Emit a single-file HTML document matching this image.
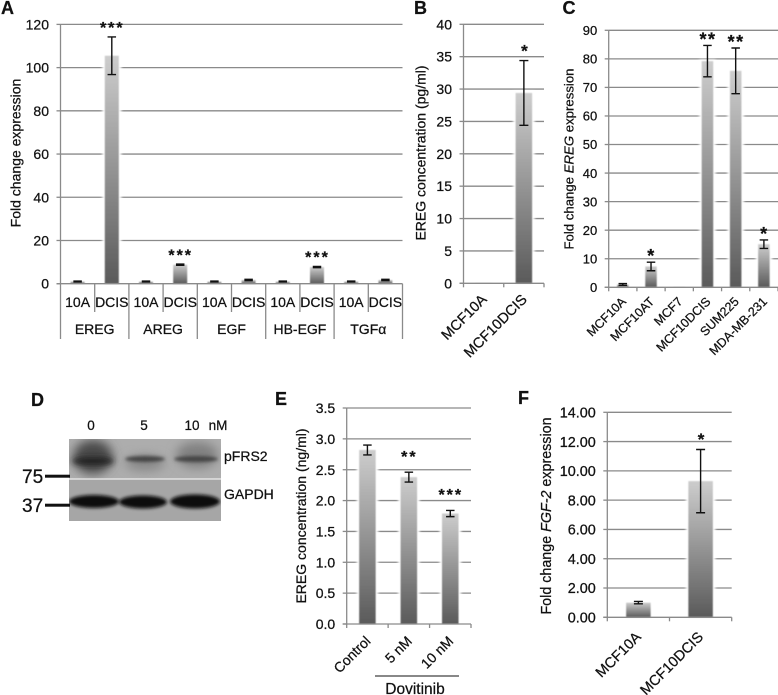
<!DOCTYPE html>
<html>
<head>
<meta charset="utf-8">
<title>Figure panels A-F</title>
<style>
html,body{margin:0;padding:0;background:#fff;width:778px;height:695px;overflow:hidden}
svg{display:block;filter:blur(0.35px)}
text{font-family:"Liberation Sans",sans-serif;fill:#111;stroke:#111;stroke-width:0.25px}
</style>
</head>
<body>
<svg id="fig" xmlns="http://www.w3.org/2000/svg" width="778" height="695" viewBox="0 0 778 695">
<defs>
<linearGradient id="barGrad" x1="0" y1="0" x2="0" y2="1"><stop offset="0" stop-color="#cdcdcd"/><stop offset="1" stop-color="#5a5a5a"/></linearGradient>
<filter id="soft" x="-30%" y="-30%" width="160%" height="160%"><feGaussianBlur stdDeviation="0.5"/></filter>
<filter id="halo" x="-50%" y="-50%" width="200%" height="200%"><feGaussianBlur stdDeviation="1.2"/></filter>
<filter id="band" x="-50%" y="-80%" width="200%" height="260%"><feGaussianBlur stdDeviation="3"/></filter>
<filter id="band2" x="-30%" y="-80%" width="160%" height="260%"><feGaussianBlur stdDeviation="1.6"/></filter>
<filter id="cloud" x="-60%" y="-60%" width="220%" height="220%"><feGaussianBlur stdDeviation="5"/></filter>
</defs>

<g font-weight="bold" font-size="18">
<text x="1" y="14">A</text>
<text x="414" y="14">B</text>
<text x="562.5" y="14">C</text>
<text x="31" y="406">D</text>
<text x="275" y="405">E</text>
<text x="518" y="404">F</text>
</g>

<g>
<rect x="69" y="439" width="152" height="39.5" fill="#adadad"/>
<rect x="69" y="479.5" width="152" height="41.5" fill="#a6a6a6"/>
<clipPath id="blotTop"><rect x="69" y="439" width="152" height="39.5"/></clipPath>
<clipPath id="blotBot"><rect x="69" y="479.5" width="152" height="41.5"/></clipPath>
<g clip-path="url(#blotTop)">
<ellipse cx="93" cy="457" rx="20" ry="17" fill="#4a4a4a" filter="url(#cloud)"/>
<ellipse cx="93" cy="461" rx="21" ry="4" fill="#222" filter="url(#band)"/>
<ellipse cx="145" cy="463" rx="20" ry="8" fill="#888" filter="url(#cloud)"/>
<ellipse cx="197" cy="455" rx="21" ry="13" fill="#808080" filter="url(#cloud)"/>
<ellipse cx="145" cy="459" rx="20" ry="3" fill="#444" filter="url(#band2)"/>
<ellipse cx="196" cy="459" rx="22" ry="3" fill="#444" filter="url(#band2)"/>
</g>
<g clip-path="url(#blotBot)">
<ellipse cx="94" cy="501.5" rx="25" ry="6.5" fill="#111" filter="url(#band2)"/>
<ellipse cx="143" cy="502" rx="24" ry="6.5" fill="#111" filter="url(#band2)"/>
<ellipse cx="195" cy="501.5" rx="25" ry="7" fill="#111" filter="url(#band2)"/>
</g>
<text x="91" y="430" font-size="13.5" text-anchor="middle">0</text>
<text x="144" y="430" font-size="13.5" text-anchor="middle">5</text>
<text x="192" y="430" font-size="13.5" text-anchor="middle">10</text>
<text x="218" y="430" font-size="13.5" text-anchor="middle">nM</text>
<text x="224" y="461" font-size="14">pFRS2</text>
<text x="224" y="499" font-size="14">GAPDH</text>
<text x="22" y="483" font-size="19">75</text>
<text x="22" y="512" font-size="19">37</text>
<rect x="45" y="474.7" width="25" height="3" fill="#111"/>
<rect x="45" y="503.7" width="25" height="3" fill="#111"/>
</g>

<line x1="375" y1="676" x2="459" y2="676" stroke="#111" stroke-width="1"/>
<text x="415" y="694" font-size="15.5" text-anchor="middle">Dovitinib</text>
</svg>

<script>
// Panel A
var aCategories = ["10A","DCIS","10A","DCIS","10A","DCIS","10A","DCIS","10A","DCIS"];
var aGroups = ["EREG","AREG","EGF","HB-EGF","TGFα"];
var aValues = [1,105.5,1,8.8,1,1.7,1,7.7,1,1.7];
var aErrors = [0.2,8.7,0.2,0.3,0.2,0.3,0.2,0.3,0.2,0.3];
var aStars = ["","***","","***","","","","***","",""];
var aTicks = [0,20,40,60,80,100,120];
var aTickLabels = ["0","20","40","60","80","100","120"];
// Panel B
var bCategories = ["MCF10A","MCF10DCIS"];
var bValues = [0.05,29.4];
var bErrors = [0,5];
var bStars = ["","*"];
var bTicks = [0,5,10,15,20,25,30,35,40];
var bTickLabels = ["0","5","10","15","20","25","30","35","40"];
// Panel C
var cCategories = ["MCF10A","MCF10AT","MCF7","MCF10DCIS","SUM225","MDA-MB-231"];
var cValues = [1,7.3,0.2,79.2,75.8,15.1];
var cErrors = [0.3,1.5,0,5.5,8,1.5];
var cStars = ["","*","","**","**","*"];
var cTicks = [0,10,20,30,40,50,60,70,80,90];
var cTickLabels = ["0","10","20","30","40","50","60","70","80","90"];
// Panel E
var eCategories = ["Control","5 nM","10 nM"];
var eValues = [2.82,2.38,1.79];
var eErrors = [0.08,0.08,0.05];
var eStars = ["","**","***"];
var eTicks = [0,0.5,1,1.5,2,2.5,3,3.5];
var eTickLabels = ["0.0","0.5","1.0","1.5","2.0","2.5","3.0","3.5"];
// Panel F
var fCategories = ["MCF10A","MCF10DCIS"];
var fValues = [1,9.3];
var fErrors = [0.08,2.16];
var fStars = ["","*"];
var fTicks = [0,2,4,6,8,10,12,14];
var fTickLabels = ["0.00","2.00","4.00","6.00","8.00","10.00","12.00","14.00"];

var NS = "http://www.w3.org/2000/svg";
var fig = document.getElementById("fig");

function mk(parent, tag, attrs, txt) {
  var n = document.createElementNS(NS, tag);
  for (var k in attrs) n.setAttribute(k, attrs[k]);
  if (txt !== undefined) n.textContent = txt;
  parent.appendChild(n);
  return n;
}

function drawPanel(o) {
  var g = mk(fig, "g", {});
  
  
  var maxTick = Math.max.apply(null, o.ticks);
  function yScale(v) { return o.y0 - (v / maxTick) * (o.y0 - o.y1); }
  var step = (o.x1 - o.x0) / o.cats.length;
  function xScale(i) { return o.x0 + step * (i + 0.5); }

  // gridlines and y ticks
  o.ticks.forEach(function (t, i) {
    var yy = yScale(t);
    if (t !== 0) {
      var gl = mk(g, "line", {x1:o.x0, x2:o.x1, y1:yy, y2:yy, stroke:"#8a8a8a", "stroke-width":1.3});
      
      
    }
    var tk = mk(g, "line", {x1:o.x0 - 4, x2:o.x0, y1:yy, y2:yy, stroke:"#8a8a8a", "stroke-width":1.3});
    
    
    var lb = mk(g, "text", {x:o.x0 - 11.5, y:yy + o.fs * 0.36, "font-size":o.fs, "text-anchor":"end"}, o.labels[i]);
    
    
  });

  // bars
  o.vals.forEach(function (v, i) {
    var top = yScale(v), h = o.y0 - top, cx = xScale(i);
    var ha = mk(g, "rect", {x:cx - o.bw/2 - 2.5, y:top - 1.5, width:o.bw + 5, height:h + 1.5, fill:"#fff", filter:"url(#halo)"});
    
    
    var br = mk(g, "rect", {x:cx - o.bw/2, y:top, width:o.bw, height:h, fill:"url(#barGrad)", filter:"url(#soft)"});
    
    
  });

  // axes
  var ax = mk(g, "line", {x1:o.x0, x2:o.x0, y1:o.y1, y2:o.y0, stroke:"#8a8a8a", "stroke-width":1.3});
  
  
  var bx = mk(g, "line", {x1:o.x0 - 4, x2:o.x1, y1:o.y0, y2:o.y0, stroke:"#8a8a8a", "stroke-width":1.3});
  
  

  // error bars and significance marks
  o.vals.forEach(function (v, i) {
    var cx = xScale(i), e = o.errs[i], up = yScale(v + e), lo = yScale(v - e), hw = o.cap / 2;
    if (e > 0) {
      var eg = mk(g, "path", {d:"M"+(cx-hw)+" "+up+"H"+(cx+hw)+"M"+cx+" "+up+"V"+lo+"M"+(cx-hw)+" "+lo+"H"+(cx+hw), fill:"none", stroke:"#111", "stroke-width":1.4});
      
      
    }
    if (o.stars[i]) {
      var st = mk(g, "text", {x:cx + 0.5, y:up - o.starGap + o.starFs * 0.55, "font-size":o.starFs, "font-weight":"bold", "text-anchor":"middle", "letter-spacing":o.starSpace}, o.stars[i]);
      
      
    }
  });

  // x ticks and labels
  if (o.rotated) {
    for (var j = 0; j <= o.cats.length; j++) {
      var xt = o.x0 + step * j;
      var tk2 = mk(g, "line", {x1:xt, x2:xt, y1:o.y0, y2:o.y0 + 4, stroke:"#8a8a8a", "stroke-width":1.3});
      
      
    }
    o.cats.forEach(function (c, i) {
      var ax0 = xScale(i) + o.labelDx, ay0 = o.y0 + o.labelDy;
      var lx = mk(g, "text", {x:ax0, y:ay0, "font-size":o.xfs, "text-anchor":"end", transform:"rotate(-45 " + ax0 + " " + ay0 + ")"}, c);
      
      
    });
  } else {
    for (var k = 0; k <= o.cats.length; k++) {
      var xm = o.x0 + step * k;
      var isGroup = k % 2 === 0;
      var tk3 = mk(g, "line", {x1:xm, x2:xm, y1:o.y0, y2:isGroup ? 339 : 312, stroke:"#8a8a8a", "stroke-width":1.3});
      
      
    }
    o.cats.forEach(function (c, i) {
      var lc = mk(g, "text", {x:xScale(i), y:307, "font-size":14, "text-anchor":"middle"}, c);
      
      
    });
    o.groups.forEach(function (c, i) {
      var lg = mk(g, "text", {x:o.x0 + step * (2 * i + 1), y:334, "font-size":14, "text-anchor":"middle"}, c);
      
      
    });
  }

  // y title
  var tt = mk(g, "text", {x:0, y:0, "font-size":o.tfs, "text-anchor":"middle", transform:"translate(" + o.titleX + " " + o.titleY + ") rotate(-90)"});
  
  
  o.title.forEach(function (part, i) {
    var sp = mk(tt, "tspan", i % 2 ? {"font-style":"italic"} : {}, part);
    
    
  });
}

drawPanel({id:"panel-a", x0:60.5, x1:402.5, y0:283.7, y1:24.4, bw:14, cap:8.5, fs:14, tfs:14,
  cats:aCategories, groups:aGroups, vals:aValues, errs:aErrors, stars:aStars, ticks:aTicks, labels:aTickLabels,
  starGap:12.5, starFs:16, starSpace:2, rotated:false, title:["Fold change expression"], titleX:20.5, titleY:153});
drawPanel({id:"panel-b", x0:463.5, x1:544, y0:283.3, y1:24.3, bw:16.5, cap:9, fs:14, tfs:14, xfs:14.5,
  cats:bCategories, vals:bValues, errs:bErrors, stars:bStars, ticks:bTicks, labels:bTickLabels,
  starGap:13.5, starFs:17, starSpace:0, rotated:true, labelDx:4, labelDy:17, title:["EREG concentration (pg/ml)"], titleX:425.5, titleY:153});
drawPanel({id:"panel-c", x0:608.7, x1:778, y0:287.3, y1:30.3, bw:11.5, cap:8.5, fs:13, tfs:13.2, xfs:12.5,
  cats:cCategories, vals:cValues, errs:cErrors, stars:cStars, ticks:cTicks, labels:cTickLabels,
  starGap:10, starFs:18, starSpace:1.5, rotated:true, labelDx:4, labelDy:15, title:["Fold change ","EREG"," expression"], titleX:573.5, titleY:159});
drawPanel({id:"panel-e", x0:346.7, x1:471, y0:624, y1:408, bw:16.5, cap:8.5, fs:14, tfs:14, xfs:14,
  cats:eCategories, vals:eValues, errs:eErrors, stars:eStars, ticks:eTicks, labels:eTickLabels,
  starGap:19, starFs:16, starSpace:2, rotated:true, labelDx:4, labelDy:18, title:["EREG concentration (ng/ml)"], titleX:306, titleY:516});
drawPanel({id:"panel-f", x0:607.3, x1:731.7, y0:617.3, y1:412.3, bw:24.5, cap:9, fs:14.4, tfs:14.3, xfs:14.5,
  cats:fCategories, vals:fValues, errs:fErrors, stars:fStars, ticks:fTicks, labels:fTickLabels,
  starGap:14, starFs:17, starSpace:0, rotated:true, labelDx:3.5, labelDy:20.5, title:["Fold change ","FGF-2"," expression"], titleX:551, titleY:516});
</script>
</body>
</html>
